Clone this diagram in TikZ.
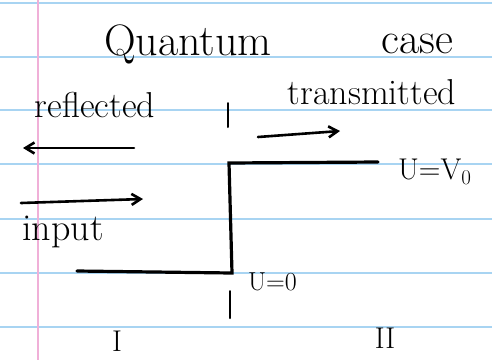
\documentclass[tikz,border=0pt]{standalone}
\usepackage{amsmath}
\usepackage{xcolor}
\usepackage{tikz}
\usetikzlibrary{arrows.meta,positioning}

\definecolor{ruleblue}{RGB}{168,212,242}
\definecolor{marginpink}{RGB}{240,176,216}

\tikzset{
  rule/.style={ruleblue,line width=1.8pt},
  pen/.style={black,line width=2.6pt,line cap=round},
  flow/.style={pen,-{Straight Barb[length=9pt,width=11pt]}},
  word/.style={inner sep=0pt,anchor=base,font=\fontsize{36}{40}\selectfont},
}

\begin{document}
\begin{tikzpicture}[x=1pt,y=-1pt]
  \useasboundingbox (0,0) rectangle (492,360);
  % lined paper
  \foreach \y in {3,57,110,164,219,273,327} {
    \draw[rule] (0,\y) -- (492,\y);
  }
  \draw[marginpink,line width=1.5pt] (38,0) -- (38,360);

  % labels
  \node[word,font=\fontsize{44}{48}\selectfont] (title) at (188,55) {Quantum};
  \node[word,font=\fontsize{44}{48}\selectfont] (caseword) at (417,53) {case};
  \node[word] (refl) at (95,117) {reflected};
  \node[word] (trans) at (372,104) {transmitted};
  \node[word,font=\fontsize{38}{42}\selectfont] (inp) at (63,240) {input};

  % potential step
  \coordinate (lowL) at (77,271);
  \coordinate (stepB) at (232,273);
  \coordinate (stepT) at (229,163);
  \coordinate (highR) at (378,162);
  \draw[pen,line width=3.2pt] (lowL) -- (stepB) -- (stepT) -- (highR);
  \node[anchor=west,inner sep=0pt,font=\fontsize{30}{34}\selectfont] (uvo)
    [right=20pt of highR, yshift=-10pt] {U=V\textsubscript{0}};
  \node[anchor=west,inner sep=0pt,font=\fontsize{26}{30}\selectfont] (uzero)
    [right=16pt of stepB, yshift=-9pt] {U=0};

  % boundary ticks
  \coordinate (tickA) at (228,103);
  \coordinate (tickB) at (228,127);
  \coordinate (tickC) at (230,291);
  \coordinate (tickD) at (230,318);
  \draw[pen,line width=2pt] (tickA) -- (tickB);
  \draw[pen,line width=2pt] (tickC) -- (tickD);

  % waves
  \coordinate (reflS) at (134,148);
  \coordinate (reflE) at (23,148);
  \coordinate (transS) at (258,137);
  \coordinate (transE) at (340,131);
  \coordinate (inpS) at (21,203);
  \coordinate (inpE) at (143,199);
  \draw[flow] (reflS) -- (reflE);
  \draw[flow] (transS) -- (transE);
  \draw[flow] (inpS) -- (inpE);

  % regions
  \node[font=\fontsize{30}{34}\selectfont] (regI) at (117,341) {I};
  \node[font=\fontsize{30}{34}\selectfont] (regII) at (385,338) {II};
\end{tikzpicture}
\end{document}
